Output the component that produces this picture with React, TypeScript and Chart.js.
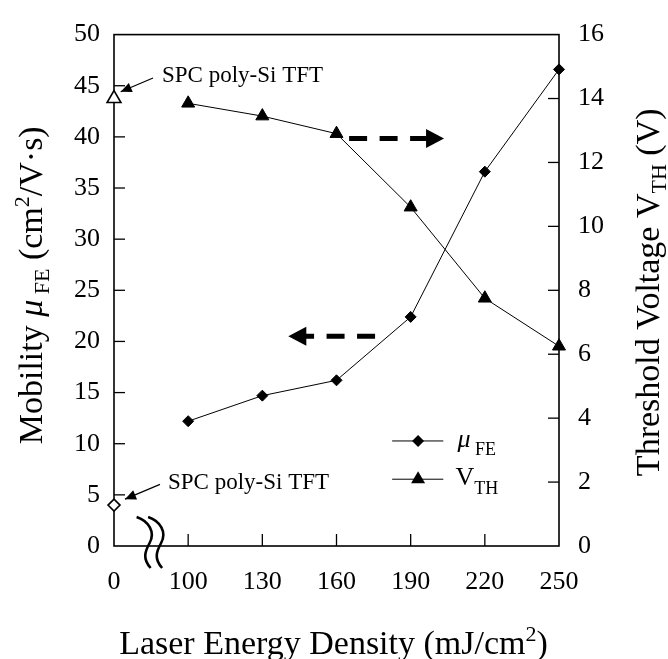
import React, { useEffect, useRef } from 'react';
import { Chart, registerables } from 'chart.js';

Chart.register(...registerables);

// Laser energy density categories (mJ/cm2); "0" is the SPC reference column
const energyLabels = ['0', '100', '130', '160', '190', '220', '250'];
// Field-effect mobility (cm2/V·s) for 100..250 mJ/cm2
const mobilityFE = [12.2, 14.7, 16.2, 22.4, 36.6, 46.6];
// Threshold voltage (V) for 100..250 mJ/cm2
const thresholdV = [13.85, 13.45, 12.9, 10.6, 7.75, 6.25];
// SPC poly-Si TFT reference values
const spcMobility = [4.0];
const spcThreshold = [14.0];
// Axis ranges
const mobilityAxis = [0, 50, 5];
const voltageAxis = [0, 16, 2];

const FONT = "'Liberation Serif', 'Times New Roman', Times, serif";

type Run = { t: string; size: number; italic?: boolean; dy?: number };

function fontOf(r: Run) {
  return `${r.italic ? 'italic ' : ''}${r.size}px ${FONT}`;
}

function runsWidth(ctx: CanvasRenderingContext2D, runs: Run[]) {
  let w = 0;
  for (const r of runs) {
    ctx.font = fontOf(r);
    w += ctx.measureText(r.t).width;
  }
  return w;
}

function drawRuns(ctx: CanvasRenderingContext2D, runs: Run[], x: number, y: number, align: 'left' | 'center') {
  let cx = align === 'center' ? x - runsWidth(ctx, runs) / 2 : x;
  ctx.textAlign = 'left';
  ctx.textBaseline = 'alphabetic';
  for (const r of runs) {
    ctx.font = fontOf(r);
    ctx.fillText(r.t, cx, y + (r.dy || 0));
    cx += ctx.measureText(r.t).width;
  }
}

function arrowHead(ctx: CanvasRenderingContext2D, x1: number, y1: number, x2: number, y2: number, len: number, half: number) {
  const a = Math.atan2(y2 - y1, x2 - x1);
  const bx = x2 - len * Math.cos(a);
  const by = y2 - len * Math.sin(a);
  ctx.beginPath();
  ctx.moveTo(x2, y2);
  ctx.lineTo(bx + half * Math.sin(a), by - half * Math.cos(a));
  ctx.lineTo(bx - half * Math.sin(a), by + half * Math.cos(a));
  ctx.closePath();
  ctx.fill();
}

function line(ctx: CanvasRenderingContext2D, x1: number, y1: number, x2: number, y2: number) {
  ctx.beginPath();
  ctx.moveTo(x1, y1);
  ctx.lineTo(x2, y2);
  ctx.stroke();
}

// Plot frame and inward tick marks, drawn beneath the series
const framePlugin = {
  id: 'frame',
  beforeDatasetsDraw(chart: any) {
    const { ctx, chartArea } = chart;
    const { left, right, top, bottom } = chartArea;
    const xs = chart.scales.x;
    const yl = chart.scales.yL;
    const yr = chart.scales.yR;
    ctx.save();
    ctx.strokeStyle = '#000';
    ctx.lineWidth = 1.6;
    ctx.strokeRect(left, top, right - left, bottom - top);
    ctx.lineWidth = 1.3;
    for (let i = 1; i < energyLabels.length - 1; i++) {
      const px = xs.getPixelForValue(i);
      line(ctx, px, bottom, px, bottom - 12);
    }
    yl.ticks.forEach((t: any) => {
      if (t.value > mobilityAxis[0] && t.value < mobilityAxis[1]) {
        const py = yl.getPixelForValue(t.value);
        line(ctx, left, py, left + 11, py);
      }
    });
    yr.ticks.forEach((t: any) => {
      if (t.value > voltageAxis[0] && t.value < voltageAxis[1]) {
        const py = yr.getPixelForValue(t.value);
        line(ctx, right, py, right - 11, py);
      }
    });
    ctx.restore();
  },
};

// Annotations, legend, axis break and axis titles
const annotationPlugin = {
  id: 'annotations',
  afterDatasetsDraw(chart: any) {
    const { ctx, chartArea } = chart;
    const { left, right, top, bottom } = chartArea;
    const xs = chart.scales.x;
    const yl = chart.scales.yL;
    const yr = chart.scales.yR;
    const X = (v: number) => xs.getPixelForValue(v);
    ctx.save();
    ctx.fillStyle = '#000';
    ctx.strokeStyle = '#000';

    // axis break marks between 0 and 100
    ctx.lineWidth = 2.6;
    [0.305, 0.46].forEach((f) => {
      const x0 = X(f);
      ctx.beginPath();
      ctx.moveTo(x0, bottom - 29);
      ctx.bezierCurveTo(x0 + 12, bottom - 25, x0 + 19, bottom - 14, x0 + 13, bottom - 3);
      ctx.bezierCurveTo(x0 + 8, bottom + 6, x0 + 6, bottom + 13, x0 + 14, bottom + 22);
      ctx.stroke();
    });

    // dashed direction arrows
    const dashedArrow = (x1: number, y1: number, x2: number, y2: number) => {
      const dir = Math.sign(x2 - x1);
      ctx.lineWidth = 5;
      ctx.setLineDash([18, 12.5]);
      line(ctx, x1, y1, x2 - dir * 16, y2);
      ctx.setLineDash([]);
      arrowHead(ctx, x1, y1, x2, y2, 18, 9.5);
    };
    const yV = yr.getPixelForValue(12.75);
    dashedArrow(X(3.17), yV, X(4.45), yV);
    const yM = yl.getPixelForValue(20.5);
    dashedArrow(X(3.52), yM, X(2.35), yM);

    // SPC reference labels
    ctx.lineWidth = 1.2;
    const ax1 = X(0.526), ay1 = yr.getPixelForValue(14.64);
    const tx1 = X(0.09), ty1 = yr.getPixelForValue(14.21);
    line(ctx, ax1, ay1, tx1, ty1);
    arrowHead(ctx, ax1, ay1, tx1, ty1, 11, 5);
    drawRuns(ctx, [{ t: 'SPC poly-Si TFT', size: 23 }], X(0.647), yr.getPixelForValue(14.53), 'left');

    const ax2 = X(0.62), ay2 = yl.getPixelForValue(6.02);
    const tx2 = X(0.148), ty2 = yl.getPixelForValue(4.58);
    line(ctx, ax2, ay2, tx2, ty2);
    arrowHead(ctx, ax2, ay2, tx2, ty2, 11, 5);
    drawRuns(ctx, [{ t: 'SPC poly-Si TFT', size: 23 }], X(0.728), yl.getPixelForValue(5.57), 'left');

    // legend
    const lx1 = X(3.75), lx2 = X(4.44), lm = X(4.1);
    const r1 = yl.getPixelForValue(10.27);
    const r2 = yl.getPixelForValue(6.53);
    ctx.lineWidth = 1;
    line(ctx, lx1, r1, lx2, r1);
    line(ctx, lx1, r2, lx2, r2);
    ctx.beginPath();
    ctx.moveTo(lm - 6, r1);
    ctx.lineTo(lm, r1 - 6);
    ctx.lineTo(lm + 6, r1);
    ctx.lineTo(lm, r1 + 6);
    ctx.closePath();
    ctx.fill();
    ctx.beginPath();
    ctx.moveTo(lm, r2 - 8);
    ctx.lineTo(lm + 7, r2 + 4);
    ctx.lineTo(lm - 7, r2 + 4);
    ctx.closePath();
    ctx.fill();
    const tx = X(4.63);
    drawRuns(ctx, [{ t: 'μ', size: 26, italic: true }, { t: ' FE', size: 18, dy: 8 }], tx, r1 + 6, 'left');
    drawRuns(ctx, [{ t: 'V', size: 26 }, { t: 'TH', size: 18, dy: 9 }], tx - 2, r2 + 6, 'left');

    // x axis title
    drawRuns(
      ctx,
      [
        { t: 'Laser Energy Density (mJ/cm', size: 34 },
        { t: '2', size: 22, dy: -13 },
        { t: ')', size: 34 },
      ],
      (left + right) / 2 - 3,
      654,
      'center'
    );

    // left axis title (reads bottom to top)
    ctx.save();
    ctx.translate(42, (top + bottom) / 2 - 5);
    ctx.rotate(-Math.PI / 2);
    drawRuns(
      ctx,
      [
        { t: 'Mobility ', size: 34 },
        { t: 'μ', size: 34, italic: true },
        { t: ' FE', size: 22, dy: 7 },
        { t: ' (cm', size: 34 },
        { t: '2', size: 22, dy: -13 },
        { t: '/V·s)', size: 34 },
      ],
      0,
      0,
      'center'
    );
    ctx.restore();

    // right axis title (also reads bottom to top)
    ctx.save();
    ctx.translate(659, (top + bottom) / 2 + 2);
    ctx.rotate(-Math.PI / 2);
    drawRuns(
      ctx,
      [
        { t: 'Threshold Voltage V', size: 34 },
        { t: 'TH', size: 22, dy: 7 },
        { t: ' (V)', size: 34 },
      ],
      0,
      0,
      'center'
    );
    ctx.restore();

    ctx.restore();
  },
};

export default function App() {
  const canvasRef = useRef<HTMLCanvasElement>(null);

  useEffect(() => {
    document.body.style.margin = '0';
    const canvas = canvasRef.current;
    if (!canvas) return;

    const tickFont = { family: FONT, size: 26 };
    const seriesStyle = {
      borderColor: '#000',
      borderWidth: 1,
      pointBorderColor: '#000',
      pointBorderWidth: 1,
      clip: false as const,
    };

    const chart = new Chart(canvas, {
      type: 'line',
      data: {
        labels: energyLabels,
        datasets: [
          {
            ...seriesStyle,
            label: 'μFE',
            data: [null, ...mobilityFE],
            yAxisID: 'yL',
            pointStyle: 'rectRot',
            pointRadius: 5.5,
            pointHoverRadius: 5.5,
            pointBackgroundColor: '#000',
          },
          {
            ...seriesStyle,
            label: 'VTH',
            data: [null, ...thresholdV],
            yAxisID: 'yR',
            pointStyle: 'triangle',
            pointRadius: 7.5,
            pointHoverRadius: 7.5,
            pointBackgroundColor: '#000',
          },
          {
            ...seriesStyle,
            label: 'SPC μFE',
            data: spcMobility,
            yAxisID: 'yL',
            showLine: false,
            pointStyle: 'rectRot',
            pointRadius: 6,
            pointHoverRadius: 6,
            pointBorderWidth: 1.6,
            pointBackgroundColor: '#fff',
          },
          {
            ...seriesStyle,
            label: 'SPC VTH',
            data: spcThreshold,
            yAxisID: 'yR',
            showLine: false,
            pointStyle: 'triangle',
            pointRadius: 8,
            pointHoverRadius: 8,
            pointBorderWidth: 1.6,
            pointBackgroundColor: '#fff',
          },
        ],
      },
      options: {
        responsive: false,
        animation: false,
        layout: { padding: { top: 25, left: 0, right: 0, bottom: 0 } },
        plugins: {
          legend: { display: false },
          tooltip: { enabled: false },
        },
        scales: {
          x: {
            type: 'category',
            offset: false,
            grid: { display: false, drawTicks: false },
            border: { display: false },
            ticks: { font: tickFont, color: '#000', padding: 21, maxRotation: 0, autoSkip: false },
            afterFit: (s: any) => {
              s.height = 113;
            },
          },
          yL: {
            position: 'left',
            min: mobilityAxis[0],
            max: mobilityAxis[1],
            grid: { display: false, drawTicks: false },
            border: { display: false },
            ticks: { stepSize: mobilityAxis[2], font: tickFont, color: '#000', padding: 14 },
            afterFit: (s: any) => {
              s.width = 114;
            },
          },
          yR: {
            position: 'right',
            min: voltageAxis[0],
            max: voltageAxis[1],
            grid: { display: false, drawTicks: false },
            border: { display: false },
            ticks: { stepSize: voltageAxis[2], font: tickFont, color: '#000', padding: 19 },
            afterFit: (s: any) => {
              s.width = 109;
            },
          },
        },
      },
      plugins: [framePlugin, annotationPlugin],
    } as any);

    return () => chart.destroy();
  }, []);

  return (
    <div style={{ width: 668, height: 659 }}>
      <canvas ref={canvasRef} width={668} height={659} style={{ display: 'block' }} />
    </div>
  );
}
